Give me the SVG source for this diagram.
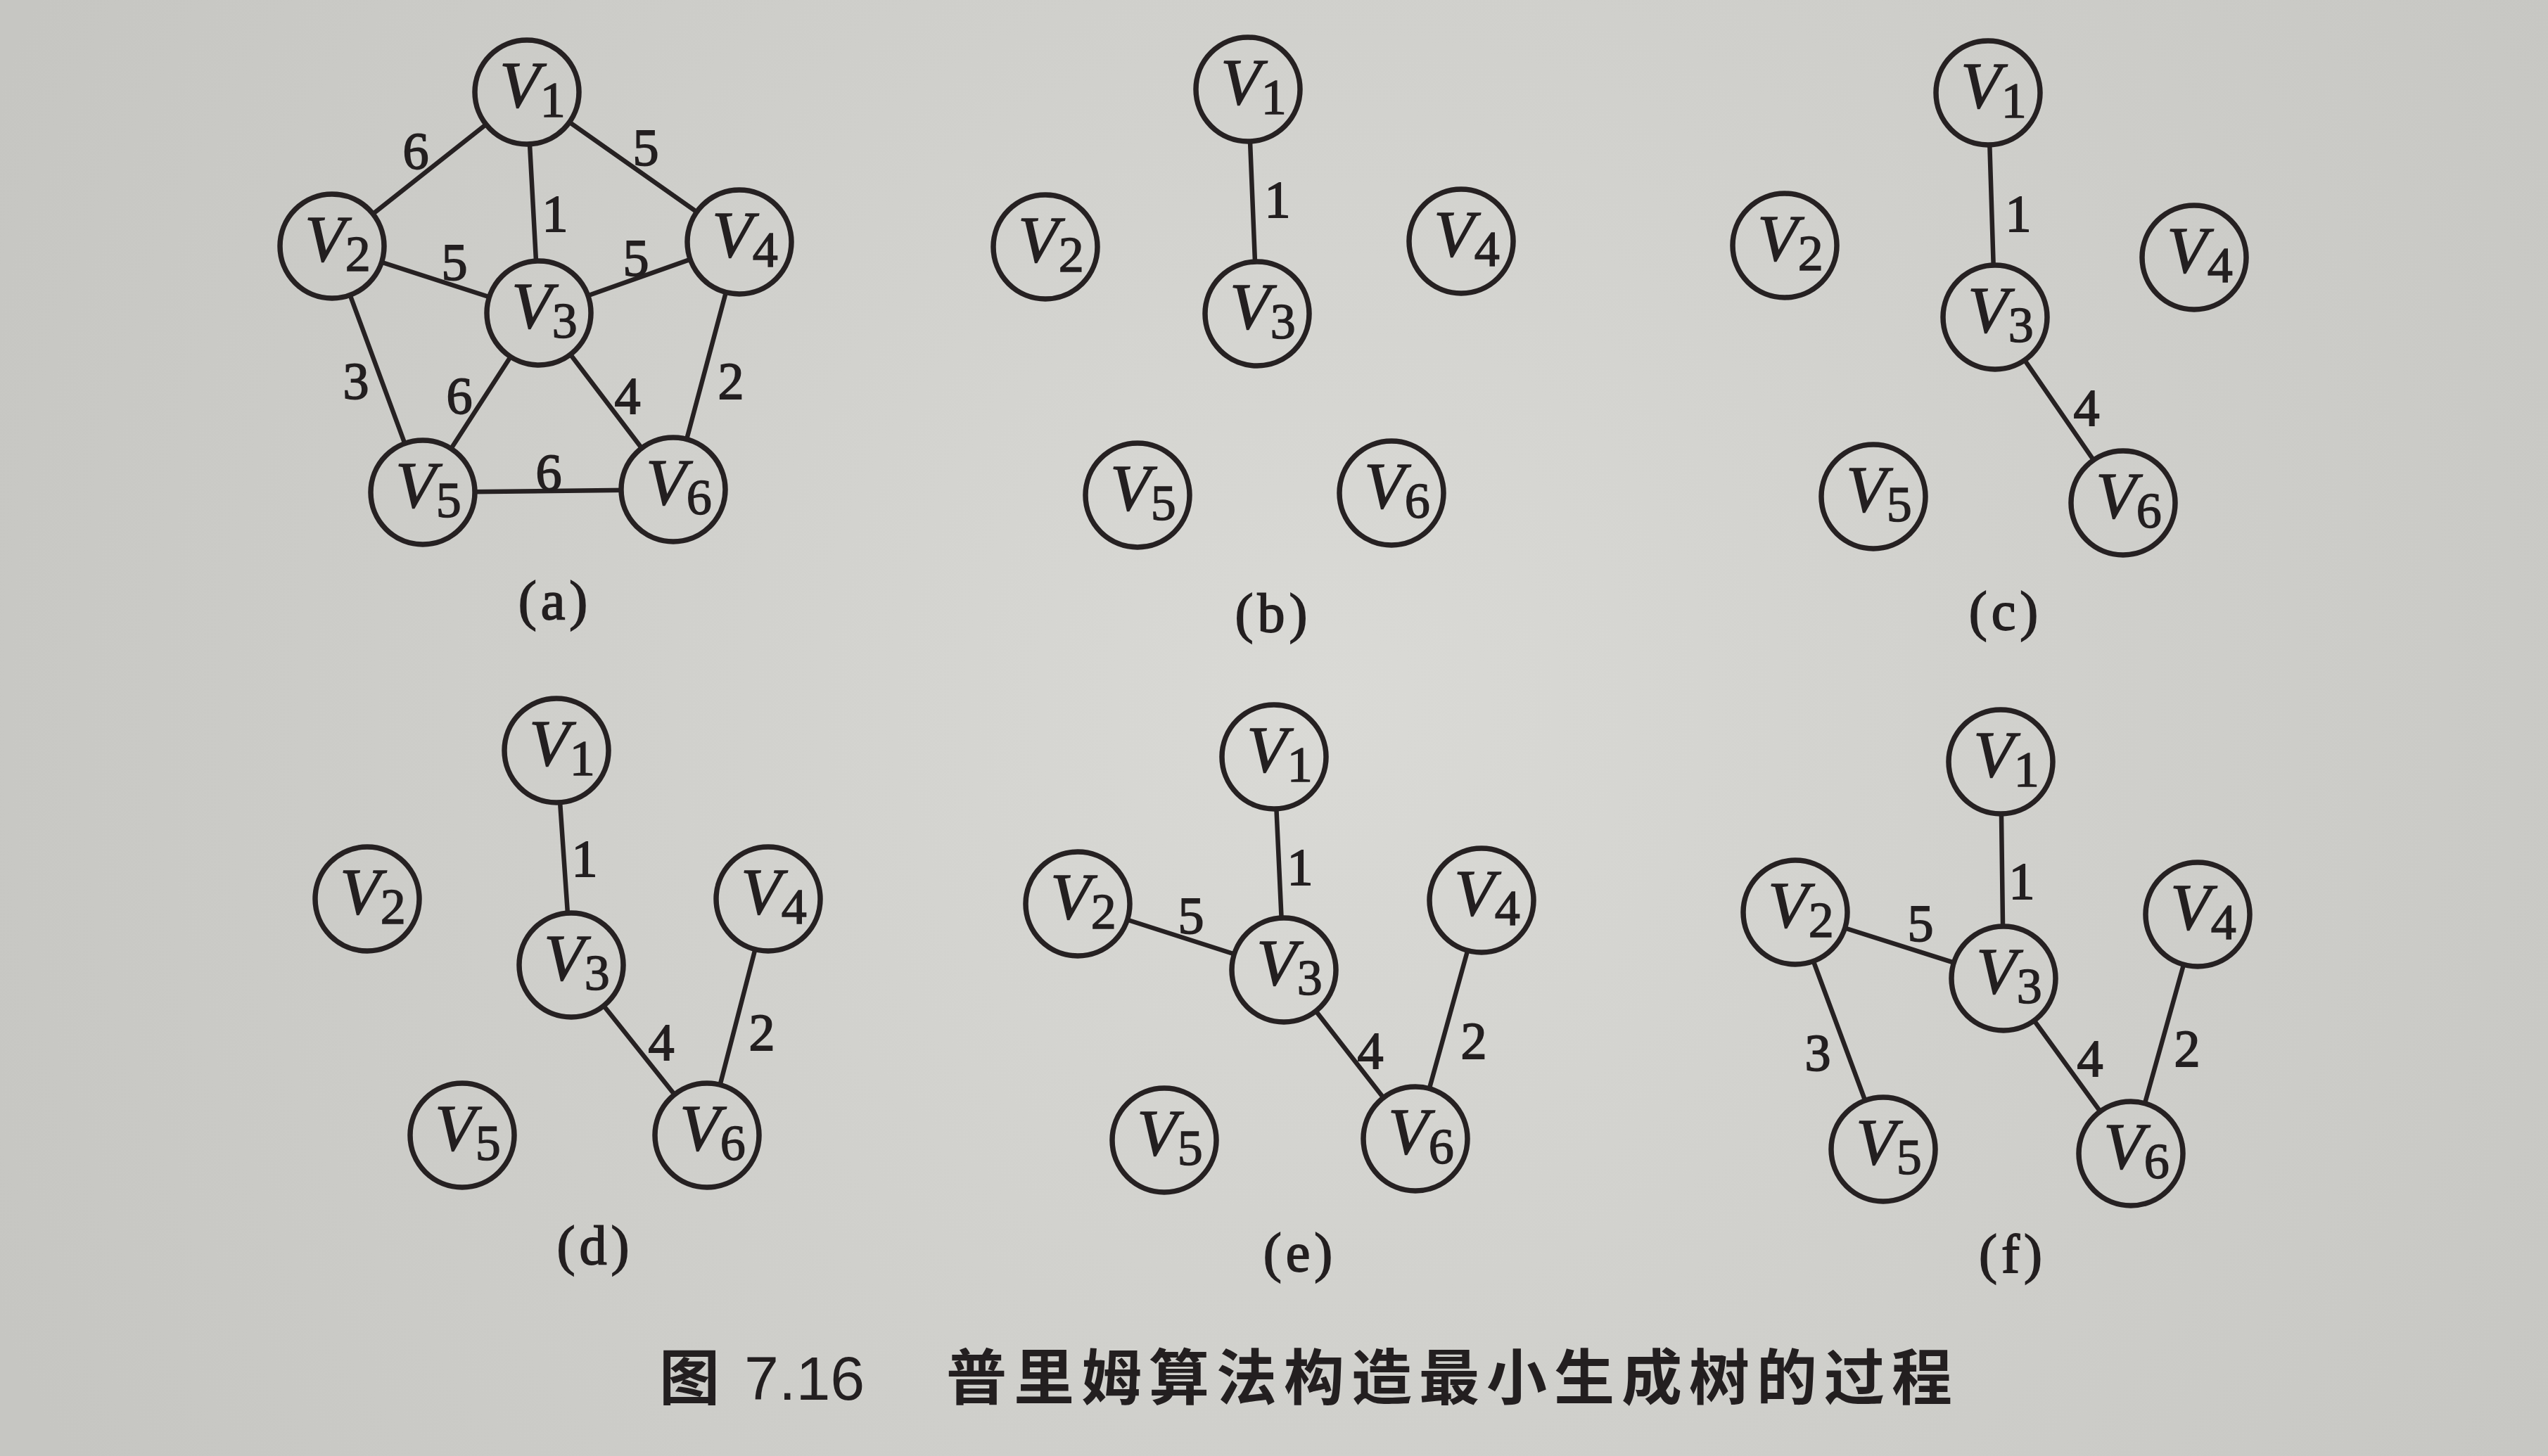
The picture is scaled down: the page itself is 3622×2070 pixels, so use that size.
<svg xmlns="http://www.w3.org/2000/svg" width="3622" height="2070" viewBox="0 0 3622 2070">
<defs>
<radialGradient id="bg" gradientUnits="userSpaceOnUse" cx="1900" cy="1000" r="2100">
<stop offset="0" stop-color="#dadad6"/>
<stop offset="1" stop-color="#c6c6c2"/>
</radialGradient>
<style>
.e{stroke:#262122;stroke-width:6.5;fill:none;stroke-linecap:round}
.n circle{fill:url(#bg);stroke:#262122;stroke-width:7.5}
.v{font-family:"Liberation Serif",serif;font-style:italic;font-size:94px;fill:#231f20;stroke:#231f20;stroke-width:1.5;text-anchor:middle}
.s{font-style:normal;font-size:72px}
.w{font-family:"Liberation Serif",serif;font-size:74px;fill:#231f20;stroke:#231f20;stroke-width:1.8;text-anchor:middle}
.p{font-family:"Liberation Serif",serif;font-size:78px;fill:#231f20;stroke:#231f20;stroke-width:1.8;text-anchor:middle;letter-spacing:6px}
.cap{font-family:"Noto Sans CJK SC","Liberation Sans",sans-serif;font-size:86px;font-weight:bold;fill:#231f20}
.num{font-family:"Liberation Sans Narrow","Liberation Sans",sans-serif;font-size:88px;fill:#231f20}
</style>
</defs>
<rect width="3622" height="2070" fill="url(#bg)"/>

<g id="connectors">
<line class="e" x1="749" y1="131" x2="472" y2="350"/>
<line class="e" x1="749" y1="131" x2="766" y2="445"/>
<line class="e" x1="749" y1="131" x2="1051" y2="344"/>
<line class="e" x1="472" y1="350" x2="766" y2="445"/>
<line class="e" x1="766" y1="445" x2="1051" y2="344"/>
<line class="e" x1="472" y1="350" x2="601" y2="700"/>
<line class="e" x1="766" y1="445" x2="601" y2="700"/>
<line class="e" x1="766" y1="445" x2="957" y2="696"/>
<line class="e" x1="1051" y1="344" x2="957" y2="696"/>
<line class="e" x1="601" y1="700" x2="957" y2="696"/>
<line class="e" x1="1774" y1="127" x2="1787" y2="446"/>
<line class="e" x1="2826" y1="132" x2="2836" y2="451"/>
<line class="e" x1="2836" y1="451" x2="3018" y2="715"/>
<line class="e" x1="791" y1="1067" x2="812" y2="1372"/>
<line class="e" x1="812" y1="1372" x2="1005" y2="1614"/>
<line class="e" x1="1092" y1="1278" x2="1005" y2="1614"/>
<line class="e" x1="1811" y1="1076" x2="1825" y2="1379"/>
<line class="e" x1="1532" y1="1285" x2="1825" y2="1379"/>
<line class="e" x1="1825" y1="1379" x2="2012" y2="1619"/>
<line class="e" x1="2106" y1="1280" x2="2012" y2="1619"/>
<line class="e" x1="2844" y1="1083" x2="2848" y2="1391"/>
<line class="e" x1="2552" y1="1297" x2="2848" y2="1391"/>
<line class="e" x1="2552" y1="1297" x2="2677" y2="1634"/>
<line class="e" x1="2848" y1="1391" x2="3029" y2="1640"/>
<line class="e" x1="3124" y1="1300" x2="3029" y2="1640"/>
</g>

<g id="edge-labels">
<text class="w" x="591" y="240">6</text>
<text class="w" x="918" y="235">5</text>
<text class="w" x="789" y="329">1</text>
<text class="w" x="646" y="398">5</text>
<text class="w" x="904" y="392">5</text>
<text class="w" x="506" y="567">3</text>
<text class="w" x="653" y="588">6</text>
<text class="w" x="892" y="588">4</text>
<text class="w" x="1039" y="567">2</text>
<text class="w" x="780" y="697">6</text>

<text class="w" x="1816" y="309">1</text>

<text class="w" x="2869" y="329">1</text>
<text class="w" x="2966" y="605">4</text>

<text class="w" x="831" y="1246">1</text>
<text class="w" x="940" y="1507">4</text>
<text class="w" x="1083" y="1493">2</text>

<text class="w" x="1848" y="1258">1</text>
<text class="w" x="1693" y="1327">5</text>
<text class="w" x="1948" y="1519">4</text>
<text class="w" x="2095" y="1505">2</text>

<text class="w" x="2874" y="1278">1</text>
<text class="w" x="2730" y="1338">5</text>
<text class="w" x="2584" y="1522">3</text>
<text class="w" x="2971" y="1530">4</text>
<text class="w" x="3109" y="1516">2</text>
</g>

<g id="a-V1" class="n"><circle cx="749" cy="131" r="74"/><text class="v" x="757" y="152">V<tspan class="s" dy="14">1</tspan></text></g>
<g id="a-V2" class="n"><circle cx="472" cy="350" r="74"/><text class="v" x="480" y="371">V<tspan class="s" dy="14">2</tspan></text></g>
<g id="a-V3" class="n"><circle cx="766" cy="445" r="74"/><text class="v" x="774" y="466">V<tspan class="s" dy="14">3</tspan></text></g>
<g id="a-V4" class="n"><circle cx="1051" cy="344" r="74"/><text class="v" x="1059" y="365">V<tspan class="s" dy="14">4</tspan></text></g>
<g id="a-V5" class="n"><circle cx="601" cy="700" r="74"/><text class="v" x="609" y="721">V<tspan class="s" dy="14">5</tspan></text></g>
<g id="a-V6" class="n"><circle cx="957" cy="696" r="74"/><text class="v" x="965" y="717">V<tspan class="s" dy="14">6</tspan></text></g>

<g id="b-V1" class="n"><circle cx="1774" cy="127" r="74"/><text class="v" x="1782" y="148">V<tspan class="s" dy="14">1</tspan></text></g>
<g id="b-V2" class="n"><circle cx="1486" cy="351" r="74"/><text class="v" x="1494" y="372">V<tspan class="s" dy="14">2</tspan></text></g>
<g id="b-V3" class="n"><circle cx="1787" cy="446" r="74"/><text class="v" x="1795" y="467">V<tspan class="s" dy="14">3</tspan></text></g>
<g id="b-V4" class="n"><circle cx="2077" cy="343" r="74"/><text class="v" x="2085" y="364">V<tspan class="s" dy="14">4</tspan></text></g>
<g id="b-V5" class="n"><circle cx="1617" cy="704" r="74"/><text class="v" x="1625" y="725">V<tspan class="s" dy="14">5</tspan></text></g>
<g id="b-V6" class="n"><circle cx="1978" cy="701" r="74"/><text class="v" x="1986" y="722">V<tspan class="s" dy="14">6</tspan></text></g>

<g id="c-V1" class="n"><circle cx="2826" cy="132" r="74"/><text class="v" x="2834" y="153">V<tspan class="s" dy="14">1</tspan></text></g>
<g id="c-V2" class="n"><circle cx="2537" cy="349" r="74"/><text class="v" x="2545" y="370">V<tspan class="s" dy="14">2</tspan></text></g>
<g id="c-V3" class="n"><circle cx="2836" cy="451" r="74"/><text class="v" x="2844" y="472">V<tspan class="s" dy="14">3</tspan></text></g>
<g id="c-V4" class="n"><circle cx="3119" cy="366" r="74"/><text class="v" x="3127" y="387">V<tspan class="s" dy="14">4</tspan></text></g>
<g id="c-V5" class="n"><circle cx="2663" cy="706" r="74"/><text class="v" x="2671" y="727">V<tspan class="s" dy="14">5</tspan></text></g>
<g id="c-V6" class="n"><circle cx="3018" cy="715" r="74"/><text class="v" x="3026" y="736">V<tspan class="s" dy="14">6</tspan></text></g>

<g id="d-V1" class="n"><circle cx="791" cy="1067" r="74"/><text class="v" x="799" y="1088">V<tspan class="s" dy="14">1</tspan></text></g>
<g id="d-V2" class="n"><circle cx="522" cy="1278" r="74"/><text class="v" x="530" y="1299">V<tspan class="s" dy="14">2</tspan></text></g>
<g id="d-V3" class="n"><circle cx="812" cy="1372" r="74"/><text class="v" x="820" y="1393">V<tspan class="s" dy="14">3</tspan></text></g>
<g id="d-V4" class="n"><circle cx="1092" cy="1278" r="74"/><text class="v" x="1100" y="1299">V<tspan class="s" dy="14">4</tspan></text></g>
<g id="d-V5" class="n"><circle cx="657" cy="1614" r="74"/><text class="v" x="665" y="1635">V<tspan class="s" dy="14">5</tspan></text></g>
<g id="d-V6" class="n"><circle cx="1005" cy="1614" r="74"/><text class="v" x="1013" y="1635">V<tspan class="s" dy="14">6</tspan></text></g>

<g id="e-V1" class="n"><circle cx="1811" cy="1076" r="74"/><text class="v" x="1819" y="1097">V<tspan class="s" dy="14">1</tspan></text></g>
<g id="e-V2" class="n"><circle cx="1532" cy="1285" r="74"/><text class="v" x="1540" y="1306">V<tspan class="s" dy="14">2</tspan></text></g>
<g id="e-V3" class="n"><circle cx="1825" cy="1379" r="74"/><text class="v" x="1833" y="1400">V<tspan class="s" dy="14">3</tspan></text></g>
<g id="e-V4" class="n"><circle cx="2106" cy="1280" r="74"/><text class="v" x="2114" y="1301">V<tspan class="s" dy="14">4</tspan></text></g>
<g id="e-V5" class="n"><circle cx="1655" cy="1621" r="74"/><text class="v" x="1663" y="1642">V<tspan class="s" dy="14">5</tspan></text></g>
<g id="e-V6" class="n"><circle cx="2012" cy="1619" r="74"/><text class="v" x="2020" y="1640">V<tspan class="s" dy="14">6</tspan></text></g>

<g id="f-V1" class="n"><circle cx="2844" cy="1083" r="74"/><text class="v" x="2852" y="1104">V<tspan class="s" dy="14">1</tspan></text></g>
<g id="f-V2" class="n"><circle cx="2552" cy="1297" r="74"/><text class="v" x="2560" y="1318">V<tspan class="s" dy="14">2</tspan></text></g>
<g id="f-V3" class="n"><circle cx="2848" cy="1391" r="74"/><text class="v" x="2856" y="1412">V<tspan class="s" dy="14">3</tspan></text></g>
<g id="f-V4" class="n"><circle cx="3124" cy="1300" r="74"/><text class="v" x="3132" y="1321">V<tspan class="s" dy="14">4</tspan></text></g>
<g id="f-V5" class="n"><circle cx="2677" cy="1634" r="74"/><text class="v" x="2685" y="1655">V<tspan class="s" dy="14">5</tspan></text></g>
<g id="f-V6" class="n"><circle cx="3029" cy="1640" r="74"/><text class="v" x="3037" y="1661">V<tspan class="s" dy="14">6</tspan></text></g>

<g id="panel-labels">
<text class="p" x="789" y="880">(a)</text>
<text class="p" x="1810" y="898">(b)</text>
<text class="p" x="2851" y="895">(c)</text>
<text class="p" x="846" y="1797">(d)</text>
<text class="p" x="1848" y="1807">(e)</text>
<text class="p" x="2861" y="1809">(f)</text>
</g>

<g id="caption">
<text class="cap" x="937" y="1990">图</text>
<text class="num" x="1058" y="1990">7.16</text>
<text class="cap" x="1345" y="1990" textLength="1430" lengthAdjust="spacing">普里姆算法构造最小生成树的过程</text>
</g>
</svg>
